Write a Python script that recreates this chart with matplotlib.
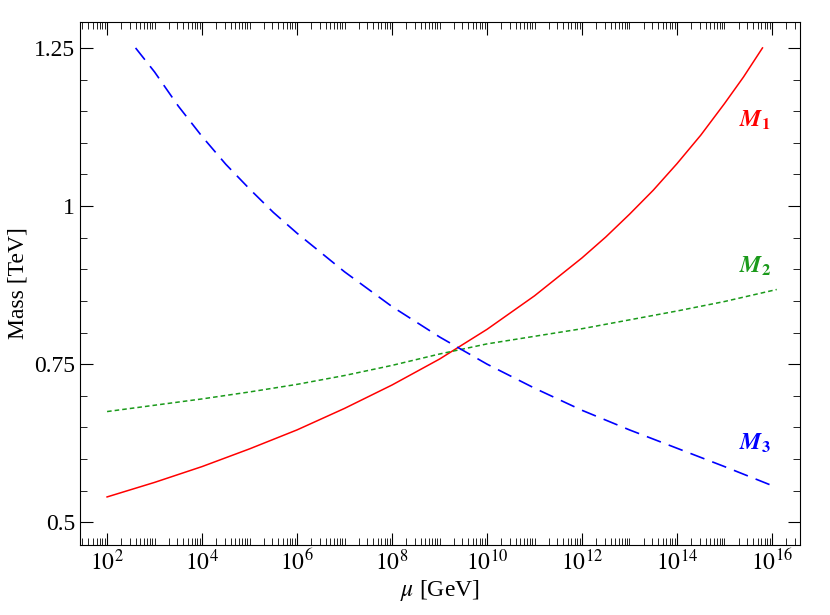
import matplotlib
matplotlib.use("Agg")
import matplotlib.pyplot as plt
import numpy as np

plt.rcParams['font.family'] = ['Liberation Serif']
plt.rcParams['mathtext.fontset'] = 'stix'

# log10(mu/GeV) and masses in TeV
t1 = [2, 3, 4, 5, 6, 7, 8, 9, 10, 11, 12, 12.5, 13, 13.5, 14, 14.5, 15, 15.4, 15.8]
m1 = [0.540, 0.563, 0.588, 0.616, 0.646, 0.680, 0.717, 0.758, 0.805, 0.858, 0.918, 0.951, 0.987, 1.025, 1.067, 1.112, 1.162, 1.204, 1.250]
t2 = [2, 3, 4, 5, 6, 7, 8, 9, 10, 11, 12, 13, 14, 15, 16.1]
m2 = [0.675, 0.685, 0.695, 0.706, 0.718, 0.732, 0.748, 0.766, 0.782, 0.794, 0.806, 0.820, 0.834, 0.849, 0.868]
t3 = [2.6, 3, 3.5, 4, 4.5, 5, 5.5, 6, 7, 8, 9, 10, 11, 12, 13, 14, 15, 16]
m3 = [1.250, 1.212, 1.158, 1.110, 1.066, 1.027, 0.990, 0.957, 0.896, 0.841, 0.793, 0.750, 0.712, 0.677, 0.646, 0.617, 0.588, 0.558]

fig = plt.figure(figsize=(8.3, 6.15), dpi=100)
ax = fig.add_axes([80/830, 70/615, 720/830, 523/615])
ax.plot(10**np.array(t1), m1, color='red', lw=1.1)
ax.plot(10**np.array(t2), m2, color='#1a9a1a', lw=1.1, dashes=(3, 2))
ax.plot(10**np.array(t3), m3, color='blue', lw=1.2, dashes=(9, 5))
ax.set_xscale('log')
ax.set_xlim(10**1.43, 10**16.59)
ax.set_ylim(0.464, 1.291)
ax.set_xticks([10.0**k for k in range(2, 17, 2)])
ax.set_xticklabels([rf'$10^{{{k}}}$' for k in range(2, 17, 2)])
ax.xaxis.set_minor_locator(matplotlib.ticker.LogLocator(base=10, subs=np.arange(1, 10), numticks=40))
ax.xaxis.set_minor_formatter(matplotlib.ticker.NullFormatter())
ax.set_yticks([0.5, 0.75, 1.0, 1.25])
ax.set_yticklabels(['0.5', '0.75', '1', '1.25'])
ax.yaxis.set_minor_locator(matplotlib.ticker.MultipleLocator(0.05))
ax.tick_params(which='both', direction='in', top=True, right=True, labelsize=17)
ax.tick_params(which='major', length=9)
ax.tick_params(which='minor', length=5)
ax.set_xlabel(r'$\mu$ [GeV]', fontsize=17, labelpad=2)
ax.set_ylabel('Mass [TeV]', fontsize=17)
ax.text(10**15.3, 1.125, r'$\mathbfit{M}_\mathbf{1}$', color='red', fontsize=17)
ax.text(10**15.3, 0.895, r'$\mathbfit{M}_\mathbf{2}$', color='#1a9a1a', fontsize=17)
ax.text(10**15.3, 0.615, r'$\mathbfit{M}_\mathbf{3}$', color='blue', fontsize=17)
fig.savefig('out.png')
